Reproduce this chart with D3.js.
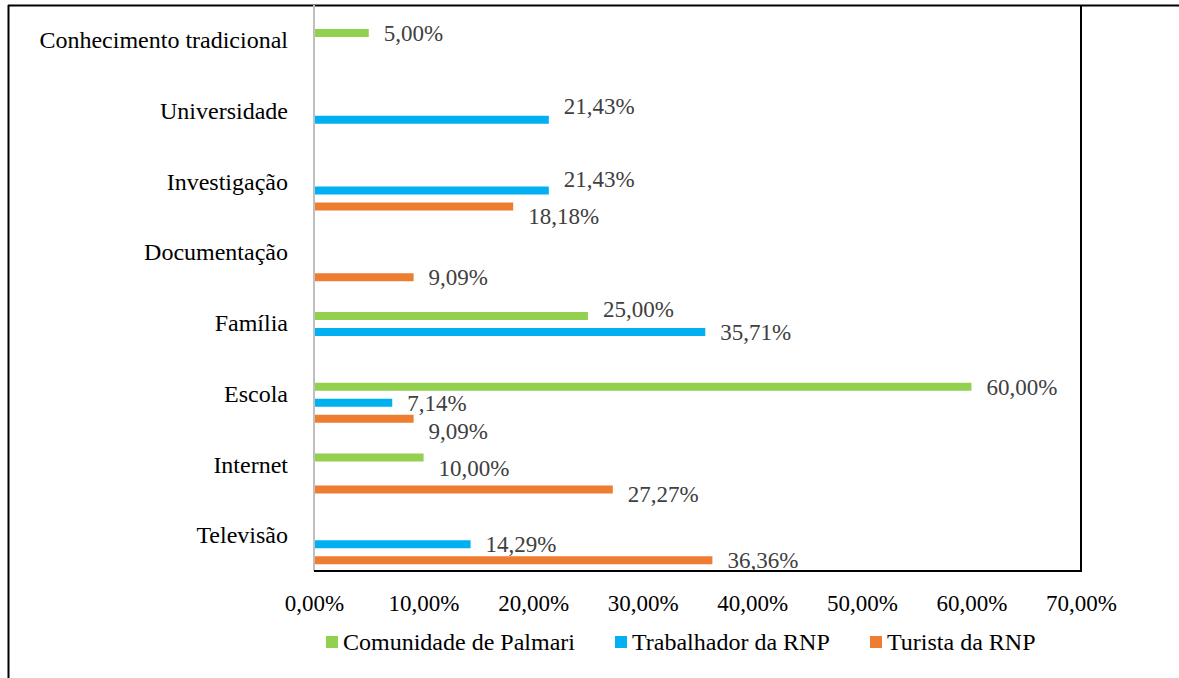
<!DOCTYPE html>
<html>
<head>
<meta charset="utf-8">
<script src="https://cdn.jsdelivr.net/npm/d3@7"></script>
<style>
  body { margin: 0; background: #fff; }
  svg { display: block; }
  text { font-family: "Liberation Serif", "Times New Roman", serif; }
</style>
</head>
<body>
<svg width="1179" height="678"></svg>
<script>
// chart data
const categories = ["Conhecimento tradicional", "Universidade", "Investigação", "Documentação",
                    "Família", "Escola", "Internet", "Televisão"];
const seriesNames = ["Comunidade de Palmari", "Trabalhador da RNP", "Turista da RNP"];
const palmari     = [5, null, null, null, 25, 60, 10, null];
const trabalhador = [null, 21.43, 21.43, null, 35.71, 7.14, null, 14.29];
const turista     = [null, null, 18.18, 9.09, null, 9.09, 27.27, 36.36];
const xTicks = [0, 10, 20, 30, 40, 50, 60, 70];

const colors = ["#92D050", "#00B0F0", "#ED7D31"];

// a few data labels were shifted up/down in the original to avoid overlaps
const labelNudge = {
  "Universidade|1": -14, "Investigação|1": -12, "Investigação|2": 9,
  "Família|0": -7, "Escola|2": 12, "Internet|0": 10, "Internet|2": 4
};

const svg = d3.select("svg");
const plot = { left: 314, right: 1081, top: 5, bottom: 571 };

const x = d3.scaleLinear().domain([0, 70]).range([plot.left, plot.right]);
const y = d3.scaleBand().domain(categories).range([plot.top, plot.bottom]);
// series sit a bit below the category centre, as in the original
const ySub = d3.scaleBand().domain(d3.range(3))
    .range([20, 68]).paddingInner(0.5).paddingOuter(0.25);

const locale = d3.formatLocale({ decimal: ",", thousands: ".", grouping: [3], currency: ["", ""] });
const pct = v => locale.format(".2f")(v) + "%";

const rows = [];
[palmari, trabalhador, turista].forEach((vals, s) => {
  vals.forEach((v, i) => {
    if (v != null) rows.push({ cat: categories[i], s: s, v: v });
  });
});

// outer frame (top + left edges only visible)
svg.append("line").attr("x1", 8).attr("x2", 1179).attr("y1", 5.5).attr("y2", 5.5)
    .attr("stroke", "#000").attr("stroke-width", 2);
svg.append("line").attr("x1", 8.5).attr("x2", 8.5).attr("y1", 5).attr("y2", 678)
    .attr("stroke", "#000").attr("stroke-width", 2);

// bars
svg.append("g").selectAll("rect").data(rows).join("rect")
    .attr("x", x(0))
    .attr("y", d => y(d.cat) + ySub(d.s))
    .attr("width", d => x(d.v) - x(0))
    .attr("height", ySub.bandwidth())
    .attr("fill", d => colors[d.s]);

// data labels
svg.append("g").selectAll("text").data(rows).join("text")
    .attr("x", d => x(d.v) + 15)
    .attr("y", d => y(d.cat) + ySub(d.s) + ySub.bandwidth() / 2 + (labelNudge[d.cat + "|" + d.s] || 0))
    .attr("dy", "0.35em")
    .attr("font-size", 23)
    .attr("fill", "#404040")
    .text(d => pct(d.v));

// axes lines
svg.append("line").attr("x1", plot.left).attr("x2", plot.left)
    .attr("y1", plot.top).attr("y2", plot.bottom)
    .attr("stroke", "#BFBFBF").attr("stroke-width", 2);
svg.append("line").attr("x1", plot.left).attr("x2", plot.right + 1)
    .attr("y1", plot.bottom).attr("y2", plot.bottom)
    .attr("stroke", "#000").attr("stroke-width", 2);
svg.append("line").attr("x1", plot.right).attr("x2", plot.right)
    .attr("y1", plot.top).attr("y2", plot.bottom)
    .attr("stroke", "#000").attr("stroke-width", 2);

// category labels
const yAxis = d3.axisLeft(y).tickSize(0).tickPadding(0);
const gy = svg.append("g").attr("transform", `translate(${plot.left - 26},0)`).call(yAxis);
gy.select(".domain").remove();
gy.selectAll("text").attr("font-size", 24).attr("fill", "#000")
    .style("font-family", "'Liberation Serif', 'Times New Roman', serif");

// x tick labels
const xAxis = d3.axisBottom(x).tickValues(xTicks).tickSize(0).tickPadding(0).tickFormat(pct);
const gx = svg.append("g").attr("transform", `translate(0,${plot.bottom + 24})`).call(xAxis);
gx.select(".domain").remove();
gx.selectAll("text").attr("font-size", 23).attr("fill", "#000")
    .style("font-family", "'Liberation Serif', 'Times New Roman', serif");

// legend
const legendX = [326, 615, 870];
const legend = svg.append("g").selectAll("g").data(seriesNames).join("g")
    .attr("transform", (d, i) => `translate(${legendX[i]},642)`);
legend.append("rect").attr("x", 0).attr("y", -6).attr("width", 12).attr("height", 12)
    .attr("fill", (d, i) => colors[i]);
legend.append("text").attr("x", 17).attr("dy", "0.35em")
    .attr("font-size", 24).attr("fill", "#000").text(d => d);
</script>
</body>
</html>
